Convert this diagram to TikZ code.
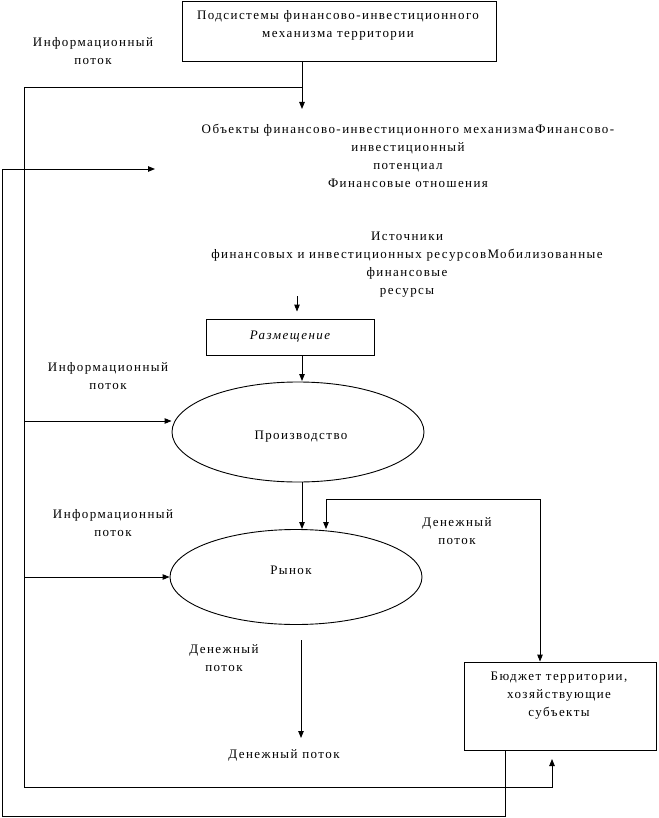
\documentclass[tikz,border=0pt]{standalone}
\usepackage{fontspec}
\setmainfont{Liberation Serif}[LetterSpace=11]
\usetikzlibrary{arrows.meta,shapes.geometric}
\begin{document}
\begin{tikzpicture}[x=1pt,y=-1pt,
  conn/.style={line width=0.9pt},
  arr/.style={conn,-{Triangle[length=7pt,width=5.5pt]}},
  darr/.style={conn,{Triangle[length=7pt,width=5.5pt]}-{Triangle[length=7pt,width=5.5pt]}},
  txt/.style={font=\fontsize{13}{18}\selectfont, align=center, inner sep=0pt},
  boxst/.style={draw, line width=0.9pt, inner sep=0pt},
  ell/.style={draw, ellipse, line width=0.9pt, inner sep=0pt}]

\useasboundingbox (0,0) rectangle (658,818);

% boxes and ellipses
\node[boxst, minimum width=314pt, minimum height=60pt] (sub) at (339,31) {};
\node[boxst, txt, minimum width=168pt, minimum height=36pt] (place) at (290,337) {\itshape Размещение};
\node[ell, minimum width=252pt, minimum height=100pt] (prod) at (298,432) {};
\node[ell, minimum width=252pt, minimum height=95pt] (mkt) at (296,577) {};
\node[boxst, minimum width=192pt, minimum height=88pt] (budget) at (560,706) {};

% texts
\node[txt] (prodT) at (301,437) {Производство};
\node[txt] (mktT) at (291,570) {Рынок};
\node[txt] (subT) at (338,25.5) {Подсистемы финансово-инвестиционного\\механизма территории};
\node[txt] (info1) at (93,51) {Информационный\\поток};
\node[txt] (obj) at (408,155.5) {Объекты финансово-инвестиционного механизмаФинансово-\\инвестиционный\\потенциал\\Финансовые отношения};
\node[txt] (src) at (407,264.5) {Источники\\финансовых и инвестиционных ресурсовМобилизованные\\финансовые\\ресурсы};
\node[txt] (info2) at (108,376) {Информационный\\поток};
\node[txt] (info3) at (113,523.5) {Информационный\\поток};
\node[txt] (money1) at (457,531) {Денежный\\поток};
\node[txt] (money2) at (224,658) {Денежный\\поток};
\node[txt] (money3) at (284,755) {Денежный поток};
\node[txt] (budT) at (559,696) {Бюджет территории,\\хозяйствующие\\субъекты};

% coordinates
\coordinate (objin) at (302,109);
\coordinate (j1) at (302,87);
\coordinate (L1) at (24,87);
\coordinate (L2) at (24,787);
\coordinate (budin) at (552,759);
\coordinate (p1) at (24,421);
\coordinate (p2) at (24,577);
\coordinate (b1) at (505,816);
\coordinate (o1) at (2,816);
\coordinate (objleft) at (155,169);
\coordinate (s1) at (297,296);
\coordinate (c2) at (302,381);
\coordinate (c3) at (302,529);
\coordinate (m1) at (326,499);
\coordinate (m2) at (540,499);
\coordinate (d1) at (301,640);
\coordinate (d2) at (301,738);

% connectors
\draw[arr] (sub.south -| objin) -- (objin);
\draw[arr] (j1) -- (L1) -- (L2) -- (L2 -| budin) -- (budin);
\draw[arr] (p1) -- (p1 -| prod.west);
\draw[arr] (p2) -- (p2 -| mkt.west);
\draw[arr] (budget.south -| b1) -- (b1) -- (o1) -- (o1 |- objleft) -- (objleft);
\draw[arr, shorten >=7pt] (s1) -- (s1 |- place.north);
\draw[arr] (place.south -| c2) -- (c2);
\draw[arr] (prod.south -| c3) -- (c3);
\draw[darr] (mkt.north -| m1) -- (m1) -- (m2) -- (budget.north -| m2);
\draw[arr] (d1) -- (d2);
\end{tikzpicture}
\end{document}
